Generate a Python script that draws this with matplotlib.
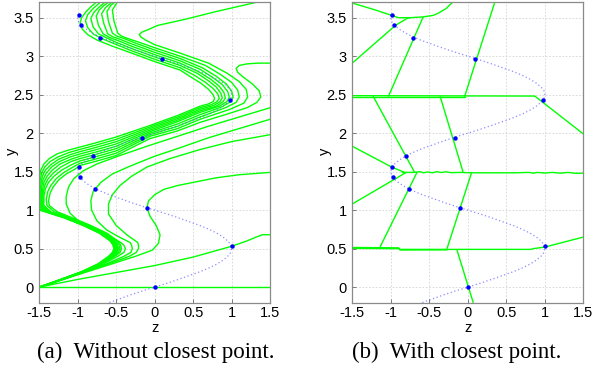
import matplotlib
matplotlib.use("Agg")
import matplotlib.pyplot as plt

plt.rcParams['axes.unicode_minus'] = False
plt.rcParams['font.family'] = ['Liberation Sans', 'DejaVu Sans']

# ---------------- data ----------------
x_ticks = [-1.5, -1, -0.5, 0, 0.5, 1, 1.5]
x_tick_labels = ["-1.5", "-1", "-0.5", "0", "0.5", "1", "1.5"]
y_ticks = [0, 0.5, 1, 1.5, 2, 2.5, 3, 3.5]
y_tick_labels = ["0", "0.5", "1", "1.5", "2", "2.5", "3", "3.5"]

# dotted reference curve (z, y)
ref_y = [-0.2, -0.15, -0.1, -0.05, 0.0, 0.05, 0.1, 0.15, 0.2, 0.25, 0.3, 0.35, 0.4, 0.45, 0.5,
         0.55, 0.6, 0.65, 0.7, 0.75, 0.8, 0.85, 0.9, 0.95, 1.0, 1.05, 1.1, 1.15, 1.2, 1.25, 1.3,
         1.35, 1.4, 1.45, 1.5, 1.55, 1.6, 1.65, 1.7, 1.75, 1.8, 1.85, 1.9, 1.95, 2.0, 2.05, 2.1,
         2.15, 2.2, 2.25, 2.3, 2.35, 2.4, 2.45, 2.5, 2.55, 2.6, 2.65, 2.7, 2.75, 2.8, 2.85, 2.9,
         2.95, 3.0, 3.05, 3.1, 3.15, 3.2, 3.25, 3.3, 3.35, 3.4, 3.45, 3.5, 3.55]
ref_z = [-0.59, -0.45, -0.31, -0.16, 0.0, 0.16, 0.31, 0.45, 0.59, 0.71, 0.81, 0.89, 0.95, 0.99, 1.0,
         0.99, 0.95, 0.89, 0.81, 0.71, 0.59, 0.45, 0.31, 0.16, 0.0, -0.16, -0.31, -0.45, -0.59, -0.71, -0.81,
         -0.89, -0.95, -0.99, -1.0, -0.99, -0.95, -0.89, -0.81, -0.71, -0.59, -0.45, -0.31, -0.16, 0.0, 0.16, 0.31,
         0.45, 0.59, 0.71, 0.81, 0.89, 0.95, 0.99, 1.0, 0.99, 0.95, 0.89, 0.81, 0.71, 0.59, 0.45, 0.31,
         0.16, 0.0, -0.16, -0.31, -0.45, -0.59, -0.71, -0.81, -0.89, -0.95, -0.99, -1.0, -0.99]

# sample points
pts_z = [0.0, 1.0, -0.1, -0.77, -0.97, -0.98, -0.8, -0.16, 0.98, 0.09, -0.71, -0.96, -0.99]
pts_y = [0.0, 0.53, 1.03, 1.28, 1.43, 1.56, 1.70, 1.94, 2.43, 2.96, 3.24, 3.40, 3.53]

# panel (a) green curves, (z, y)
a_B1 = [(-1.5, 0.0), (-1.22, 0.1), (-0.95, 0.2), (-0.74, 0.3), (-0.6, 0.4), (-0.55, 0.45), (-0.53, 0.5),
        (-0.545, 0.55), (-0.58, 0.6),
        (-0.72, 0.7), (-0.93, 0.8), (-1.18, 0.9), (-1.4, 0.97), (-1.5, 1.0), (-1.5, 1.42),
        (-1.48, 1.52), (-1.44, 1.6), (-1.37, 1.67), (-1.27, 1.73), (-1.12, 1.78), (-0.97, 1.82),
        (-0.78, 1.87), (-0.5, 1.95), (-0.06, 2.1), (0.3, 2.23), (0.59, 2.35),
        (0.7, 2.38), (0.76, 2.41), (0.78, 2.45), (0.76, 2.5), (0.7, 2.57), (0.6, 2.65), (0.47, 2.73),
        (0.33, 2.82), (0.15, 2.88), (0.0, 2.93), (-0.3, 3.04), (-0.55, 3.13), (-0.75, 3.21),
        (-0.87, 3.28), (-0.94, 3.35), (-0.97, 3.43), (-0.95, 3.5), (-0.89, 3.58), (-0.82, 3.65),
        (-0.76, 3.7), (-0.72, 3.74)]
a_B2 = [(-1.5, 0.0), (-1.22, 0.1), (-0.95, 0.2), (-0.73, 0.3), (-0.59, 0.4), (-0.54, 0.45), (-0.52, 0.5),
        (-0.535, 0.55), (-0.57, 0.6),
        (-0.71, 0.7), (-0.92, 0.8), (-1.17, 0.9), (-1.39, 0.97), (-1.49, 1.01), (-1.49, 1.38),
        (-1.47, 1.48), (-1.43, 1.56), (-1.36, 1.63), (-1.26, 1.69), (-1.11, 1.75), (-0.97, 1.79),
        (-0.78, 1.84), (-0.5, 1.92), (-0.06, 2.08), (0.3, 2.21), (0.59, 2.33),
        (0.74, 2.37), (0.81, 2.41), (0.84, 2.45), (0.82, 2.51), (0.76, 2.58), (0.66, 2.66), (0.52, 2.75),
        (0.33, 2.85), (0.15, 2.91), (0.0, 2.96), (-0.3, 3.07), (-0.52, 3.16), (-0.69, 3.23),
        (-0.8, 3.29), (-0.87, 3.37), (-0.9, 3.46), (-0.87, 3.54), (-0.8, 3.62), (-0.73, 3.68),
        (-0.68, 3.74)]
a_B3 = [(-1.5, 0.0), (-1.22, 0.1), (-0.945, 0.2), (-0.73, 0.3), (-0.58, 0.4), (-0.53, 0.45), (-0.51, 0.5),
        (-0.525, 0.55), (-0.56, 0.6),
        (-0.7, 0.7), (-0.91, 0.8), (-1.16, 0.9), (-1.38, 0.97), (-1.48, 1.02), (-1.48, 1.34),
        (-1.46, 1.44), (-1.42, 1.52), (-1.35, 1.59), (-1.25, 1.66), (-1.1, 1.72), (-0.97, 1.76),
        (-0.78, 1.81), (-0.5, 1.89), (-0.06, 2.06), (0.3, 2.19), (0.59, 2.31),
        (0.77, 2.36), (0.85, 2.41), (0.88, 2.46), (0.86, 2.52), (0.8, 2.6), (0.7, 2.68), (0.55, 2.78),
        (0.33, 2.88), (0.15, 2.94), (0.0, 2.99), (-0.3, 3.1), (-0.5, 3.18), (-0.63, 3.24),
        (-0.73, 3.29), (-0.8, 3.38), (-0.83, 3.49), (-0.79, 3.57), (-0.72, 3.64), (-0.66, 3.69),
        (-0.62, 3.74)]
a_B4 = [(-1.5, 0.0), (-1.21, 0.1), (-0.94, 0.2), (-0.72, 0.3), (-0.57, 0.4), (-0.52, 0.45), (-0.5, 0.5),
        (-0.515, 0.55), (-0.55, 0.6),
        (-0.69, 0.7), (-0.9, 0.8), (-1.15, 0.9), (-1.37, 0.97), (-1.47, 1.03), (-1.47, 1.3),
        (-1.45, 1.4), (-1.41, 1.48), (-1.34, 1.56), (-1.24, 1.63), (-1.1, 1.69), (-0.97, 1.73),
        (-0.78, 1.78), (-0.5, 1.86), (-0.06, 2.04), (0.3, 2.17), (0.59, 2.29),
        (0.8, 2.35), (0.89, 2.41), (0.92, 2.46), (0.9, 2.53), (0.84, 2.61), (0.73, 2.7), (0.57, 2.8),
        (0.33, 2.91), (0.15, 2.97), (0.0, 3.02), (-0.3, 3.13), (-0.47, 3.2), (-0.58, 3.24),
        (-0.67, 3.29), (-0.73, 3.4), (-0.76, 3.52), (-0.72, 3.6), (-0.66, 3.66), (-0.6, 3.7),
        (-0.56, 3.75)]
a_B5 = [(-1.5, 0.0), (-1.21, 0.1), (-0.94, 0.2), (-0.72, 0.3), (-0.56, 0.4), (-0.51, 0.45), (-0.49, 0.5),
        (-0.505, 0.55), (-0.54, 0.6),
        (-0.68, 0.7), (-0.89, 0.8), (-1.14, 0.9), (-1.36, 0.97), (-1.46, 1.04), (-1.46, 1.26),
        (-1.44, 1.36), (-1.4, 1.44), (-1.33, 1.52), (-1.23, 1.6), (-1.09, 1.66), (-0.97, 1.7),
        (-0.78, 1.75), (-0.5, 1.83), (-0.06, 2.02), (0.3, 2.15), (0.59, 2.27),
        (0.84, 2.35), (0.94, 2.41), (0.97, 2.47), (0.95, 2.54), (0.88, 2.63), (0.76, 2.72), (0.59, 2.83),
        (0.33, 2.94), (0.15, 3.0), (0.0, 3.05), (-0.3, 3.16), (-0.45, 3.22), (-0.54, 3.25),
        (-0.61, 3.29), (-0.66, 3.42), (-0.69, 3.55), (-0.64, 3.63), (-0.57, 3.69), (-0.52, 3.75)]
a_B6 = [(-1.5, 0.0), (-1.21, 0.1), (-0.935, 0.2), (-0.71, 0.3), (-0.55, 0.4), (-0.5, 0.45), (-0.48, 0.5),
        (-0.495, 0.55), (-0.53, 0.6),
        (-0.67, 0.7), (-0.88, 0.8), (-1.13, 0.9), (-1.35, 0.97), (-1.45, 1.05), (-1.45, 1.22),
        (-1.43, 1.32), (-1.39, 1.4), (-1.32, 1.48), (-1.22, 1.56), (-1.09, 1.63), (-0.97, 1.67),
        (-0.78, 1.72), (-0.5, 1.8), (-0.06, 2.0), (0.3, 2.12), (0.59, 2.24),
        (0.87, 2.34), (0.99, 2.41), (1.02, 2.47), (1.0, 2.55), (0.93, 2.64), (0.8, 2.74), (0.62, 2.85),
        (0.33, 2.97), (0.15, 3.03), (0.0, 3.08), (-0.25, 3.17), (-0.4, 3.23), (-0.49, 3.26),
        (-0.55, 3.3), (-0.6, 3.45), (-0.62, 3.58), (-0.57, 3.66), (-0.51, 3.71), (-0.47, 3.76)]
a_B7 = [(-1.5, 0.0), (-1.21, 0.1), (-0.935, 0.2), (-0.71, 0.3), (-0.54, 0.4), (-0.49, 0.45), (-0.47, 0.5),
        (-0.485, 0.55), (-0.52, 0.6),
        (-0.66, 0.7), (-0.87, 0.8), (-1.12, 0.9), (-1.34, 0.97), (-1.44, 1.06), (-1.44, 1.18),
        (-1.42, 1.28), (-1.38, 1.36), (-1.31, 1.44), (-1.21, 1.52), (-1.08, 1.59), (-0.97, 1.64),
        (-0.78, 1.69), (-0.5, 1.77), (-0.06, 1.98), (0.3, 2.09), (0.59, 2.21),
        (0.92, 2.33), (1.06, 2.4), (1.1, 2.47), (1.08, 2.56), (1.0, 2.66), (0.86, 2.76), (0.66, 2.88),
        (0.33, 3.0), (0.15, 3.06), (0.0, 3.11), (-0.2, 3.18), (-0.35, 3.23), (-0.43, 3.26),
        (-0.48, 3.3), (-0.53, 3.46), (-0.55, 3.6), (-0.5, 3.68), (-0.45, 3.76)]
a_P = [(-1.5, 0.0), (-1.2, 0.1), (-0.93, 0.2), (-0.7, 0.3), (-0.53, 0.4), (-0.47, 0.45), (-0.45, 0.5),
       (-0.465, 0.55), (-0.5, 0.6),
       (-0.64, 0.7), (-0.85, 0.8), (-1.1, 0.9), (-1.31, 0.98), (-1.4, 1.06), (-1.41, 1.14),
       (-1.39, 1.24), (-1.35, 1.32), (-1.28, 1.41), (-1.18, 1.49), (-1.06, 1.56), (-0.97, 1.61),
       (-0.78, 1.66), (-0.5, 1.74), (-0.06, 1.96), (0.3, 2.06), (0.59, 2.18),
       (0.98, 2.31), (1.16, 2.39), (1.21, 2.47), (1.19, 2.57), (1.1, 2.67), (0.94, 2.78), (0.7, 2.91),
       (0.33, 3.04), (0.15, 3.1), (0.0, 3.15), (-0.12, 3.21), (-0.18, 3.25), (-0.2, 3.28),
       (-0.17, 3.31), (-0.05, 3.36), (0.04, 3.4), (0.4, 3.48), (0.8, 3.58), (1.28, 3.69), (1.4, 3.72)]
a_H = [(-1.5, 0.0), (-1.2, 0.1), (-0.93, 0.2), (-0.7, 0.3), (-0.52, 0.4), (-0.45, 0.45), (-0.43, 0.5),
       (-0.445, 0.55), (-0.48, 0.6),
       (-0.62, 0.7), (-0.83, 0.8), (-1.07, 0.9), (-1.27, 0.98), (-1.37, 1.06), (-1.38, 1.12),
       (-1.36, 1.22), (-1.32, 1.3), (-1.25, 1.39), (-1.15, 1.47), (-1.04, 1.53), (-0.97, 1.58),
       (-0.78, 1.63), (-0.5, 1.71), (-0.06, 1.93), (0.3, 2.03), (0.59, 2.14),
       (0.95, 2.25), (1.2, 2.33), (1.33, 2.4), (1.38, 2.47), (1.36, 2.55), (1.27, 2.64), (1.15, 2.73),
       (1.08, 2.79), (1.06, 2.84), (1.1, 2.88), (1.2, 2.9), (1.35, 2.91), (1.55, 2.91)]
a_R0 = [(-1.5, 0.0), (-1.2, 0.1), (-0.92, 0.2), (-0.67, 0.3), (-0.48, 0.4), (-0.4, 0.45), (-0.38, 0.5),
        (-0.4, 0.545), (-0.44, 0.58),
        (-0.6, 0.66), (-0.8, 0.75), (-0.98, 0.85), (-1.1, 0.96), (-1.15, 1.08), (-1.15, 1.18),
        (-1.12, 1.3), (-1.05, 1.41), (-0.93, 1.51), (-0.75, 1.6), (-0.45, 1.71), (-0.1, 1.83),
        (0.3, 1.96), (0.7, 2.09), (1.1, 2.21), (1.5, 2.33)]
a_R1 = [(-1.5, 0.0), (-1.19, 0.1), (-0.91, 0.2), (-0.63, 0.3), (-0.4, 0.4), (-0.31, 0.45), (-0.29, 0.5),
        (-0.3, 0.545), (-0.32, 0.58),
        (-0.46, 0.65), (-0.62, 0.74), (-0.75, 0.86), (-0.82, 1.0), (-0.83, 1.12), (-0.8, 1.24),
        (-0.7, 1.36), (-0.55, 1.47), (-0.3, 1.58), (0.0, 1.7), (0.3, 1.8), (0.7, 1.94), (1.1, 2.06),
        (1.5, 2.18)]
a_R2 = [(-1.5, 0.0), (-1.19, 0.1), (-0.9, 0.2), (-0.6, 0.3), (-0.33, 0.4), (-0.24, 0.45), (-0.21, 0.5),
        (-0.21, 0.54), (-0.22, 0.58),
        (-0.35, 0.67), (-0.5, 0.8), (-0.6, 0.95), (-0.6, 1.08), (-0.55, 1.2), (-0.45, 1.32),
        (-0.3, 1.44), (-0.1, 1.56), (0.2, 1.67), (0.6, 1.79), (1.0, 1.89), (1.5, 1.98)]
a_S = [(-1.5, 0.0), (-1.19, 0.1), (-0.875, 0.2), (-0.56, 0.3), (-0.25, 0.4), (-0.03, 0.48), (0.05, 0.57),
       (0.07, 0.68), (0.02, 0.8), (-0.06, 0.92), (-0.1, 1.03), (-0.08, 1.12), (0.0, 1.2), (0.12, 1.27),
       (0.3, 1.32), (0.55, 1.37), (0.8, 1.42), (1.1, 1.46), (1.5, 1.49)]
a_L1 = [(-1.5, 0.0), (-1.0, 0.1), (-0.5, 0.19), (0.0, 0.28), (0.5, 0.39), (1.0, 0.53), (1.2, 0.6),
        (1.32, 0.65), (1.4, 0.68), (1.5, 0.68)]
a_L0 = [(-1.5, 0.0), (1.5, 0.0)]
curves_a = [a_L0, a_L1, a_S, a_R2, a_R1, a_R0, a_H, a_P, a_B7, a_B6, a_B5, a_B4, a_B3, a_B2, a_B1]

# panel (b) green boundaries, (z, y)
b_top = [(-1.5, 3.69), (-1.2, 3.6), (-0.99, 3.53), (-0.9, 3.5), (-0.75, 3.5), (-0.58, 3.51),
         (-0.45, 3.53), (-0.38, 3.56), (-0.28, 3.62), (-0.2, 3.7)]
b_l2 = [(-1.5, 2.91), (-0.94, 3.4), (-0.79, 3.49), (-0.75, 3.5)]
b_l3 = [(-1.03, 2.48), (-0.58, 3.51)]
b_l4 = [(-0.04, 2.48), (0.35, 3.7)]
b_h25a = [(-1.5, 2.487), (0.87, 2.482), (1.5, 1.99)]
b_h25b = [(-1.5, 2.474), (-0.04, 2.474)]
b_l6 = [(-1.23, 2.48), (-0.69, 1.49)]
b_l7 = [(-0.36, 2.48), (-0.06, 1.49)]
b_l8 = [(-1.5, 1.83), (-0.99, 1.56), (-0.82, 1.49)]
b_h15 = [(-0.85, 1.49), (-0.7, 1.49), (-0.62, 1.5), (-0.58, 1.485), (-0.52, 1.496), (-0.46, 1.485),
         (-0.4, 1.5), (-0.35, 1.489), (-0.28, 1.498), (-0.22, 1.487), (-0.1, 1.49), (0.05, 1.485),
         (0.3, 1.485), (0.6, 1.485), (0.8, 1.49), (0.85, 1.48), (0.9, 1.49), (1.0, 1.482),
         (1.1, 1.49), (1.2, 1.48), (1.3, 1.49), (1.4, 1.478), (1.5, 1.48)]
b_l10 = [(-1.5, 1.08), (-0.8, 1.49)]
b_l11 = [(-0.66, 1.49), (-1.14, 0.52)]
b_l12 = [(0.05, 1.49), (-0.27, 0.5)]
b_h05a = [(-1.5, 0.515), (-0.9, 0.51), (-0.88, 0.49), (-0.27, 0.49), (0.82, 0.49), (0.85, 0.5),
          (1.0, 0.52), (1.5, 0.65)]
b_h05b = [(-1.5, 0.503), (-0.9, 0.5), (-0.88, 0.482), (-0.27, 0.484)]
b_l14 = [(-0.14, 0.48), (0.07, -0.2)]
curves_b = [b_top, b_l2, b_l3, b_l4, b_h25a, b_h25b, b_l6, b_l7, b_l8, b_h15, b_l10, b_l11,
            b_l12, b_h05a, b_h05b, b_l14]

captions = ["(a)  Without closest point.", "(b)  With closest point."]

# ---------------- figure ----------------
W, H = 592, 373
fig = plt.figure(figsize=(W / 100, H / 100), dpi=100)
ax_a = fig.add_axes([39.3 / W, (H - 302.5) / H, 230.7 / W, 300.2 / H])
ax_b = fig.add_axes([352.3 / W, (H - 302.5) / H, 231.0 / W, 300.2 / H])

GREEN = '#00ff00'
for ax, curves in ((ax_a, curves_a), (ax_b, curves_b)):
    ax.set_xlim(-1.5, 1.5)
    ax.set_ylim(-0.2, 3.7)
    ax.set_xticks(x_ticks)
    ax.set_xticklabels(x_tick_labels)
    ax.set_yticks(y_ticks)
    ax.set_yticklabels(y_tick_labels)
    ax.grid(True, color='#d4d4d4', linestyle=(0, (2, 2)), linewidth=0.6)
    ax.set_axisbelow(True)
    ax.tick_params(direction='in', length=3, width=0.6, color='#666666', labelsize=10.5,
                   pad=4, labelcolor='black')
    ax.tick_params(axis='x', pad=2.5)
    for s in ax.spines.values():
        s.set_color('#8a8a8a')
        s.set_linewidth(0.9)
    for c in curves:
        ax.plot([p[0] for p in c], [p[1] for p in c], color=GREEN, lw=1.0,
                solid_joinstyle='round', solid_capstyle='round')
    ax.plot(ref_z, ref_y, color='#7070ff', linestyle=(0, (1, 2)), lw=0.9, alpha=0.8)
    ax.plot(pts_z, pts_y, 'o', color='#0000ff', ms=3.2, mec='none')
    ax.set_xlabel('z', fontsize=10.5, va='center')
    ax.set_ylabel('y', fontsize=10.5, va='center')
    ax.xaxis.set_label_coords(0.5, -(327.5 - 302.5) / 300.2)
    ax.yaxis.set_label_coords(-(39.3 - 12.0) / 230.7, (302.5 - 151.7) / 300.2)

fig.text(156 / W, 1 - 352 / H, captions[0], ha='center', va='center',
         family=['Liberation Serif', 'DejaVu Serif'], fontsize=16.5)
fig.text(457 / W, 1 - 352 / H, captions[1], ha='center', va='center',
         family=['Liberation Serif', 'DejaVu Serif'], fontsize=16.5)

fig.savefig('out.png', dpi=100)
